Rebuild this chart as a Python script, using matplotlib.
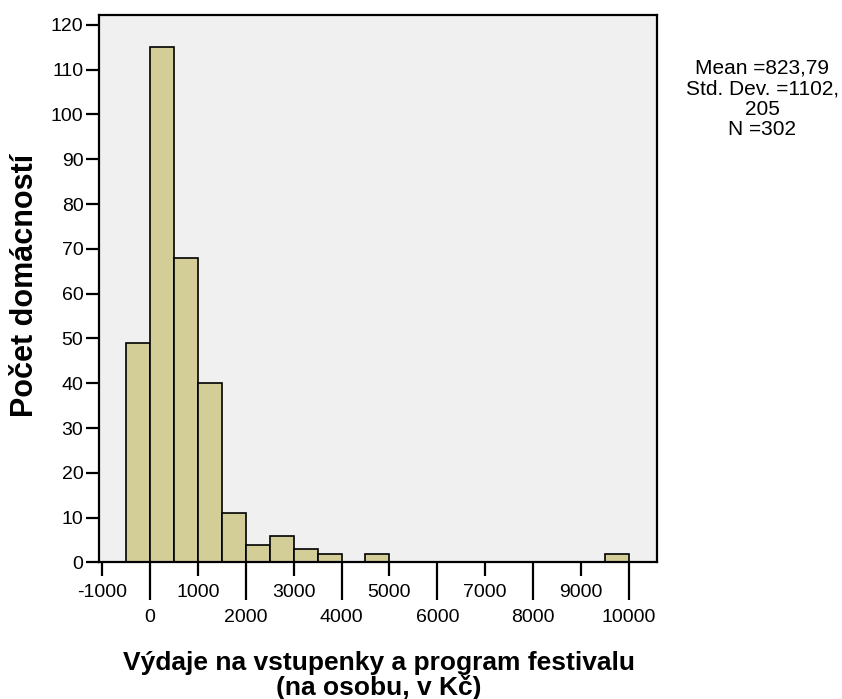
import matplotlib
matplotlib.use('Agg')
import matplotlib.pyplot as plt
import numpy as np

plt.rcParams['font.family'] = ['Liberation Sans', 'DejaVu Sans']

# bin edges (left side) and counts, bin width 500
bin_left = [-500, 0, 500, 1000, 1500, 2000, 2500, 3000, 3500, 4500, 9500]
counts = [49, 115, 68, 40, 11, 4, 6, 3, 2, 2, 2]
bin_width = 500

even_ticks = [0, 2000, 4000, 6000, 8000, 10000]
odd_ticks = [-1000, 1000, 3000, 5000, 7000, 9000]
y_ticks = list(range(0, 121, 10))

stats_text = "Mean =823,79\nStd. Dev. =1102,\n205\nN =302"

fig = plt.figure(figsize=(8.42, 6.99), dpi=100)
ax = fig.add_axes([0.118, 0.1953, 0.662, 0.7832])
ax.set_facecolor('#F0F0F0')

ax.bar(bin_left, counts, width=bin_width, align='edge', color='#D3CE97',
       edgecolor='black', linewidth=1.2, zorder=2)

ax.set_xlim(-1059, 10585)
ax.set_ylim(0, 122.2)

# long ticks at even thousands, short ones at odd thousands (staggered labels)
ax.set_xticks(even_ticks)
ax.set_xticklabels([str(t) for t in even_ticks])
ax.set_xticks(odd_ticks, minor=True)
ax.set_xticklabels([str(t) for t in odd_ticks], minor=True)
ax.tick_params(axis='x', which='major', length=27, width=1.6, labelsize=14, pad=6.5)
ax.tick_params(axis='x', which='minor', length=10, width=1.6, labelsize=14, pad=5.3)

ax.set_yticks(y_ticks)
ax.tick_params(axis='y', length=9.5, width=1.6, labelsize=14, pad=2)

for s in ax.spines.values():
    s.set_linewidth(1.6)

ax.set_xlabel("Výdaje na vstupenky a program festivalu\n(na osobu, v Kč)",
              fontsize=19, fontweight='bold', linespacing=0.97)
ax.xaxis.set_label_coords(0.502, -0.162)
ax.set_ylabel("Počet domácností", fontsize=22, fontweight='bold')
ax.yaxis.set_label_coords(-0.106, 0.507)

fig.text(762 / 842, 1 - 99 / 699, stats_text, ha='center', va='center',
         fontsize=15, linespacing=1.09)

fig.savefig('out.png', dpi=100)
